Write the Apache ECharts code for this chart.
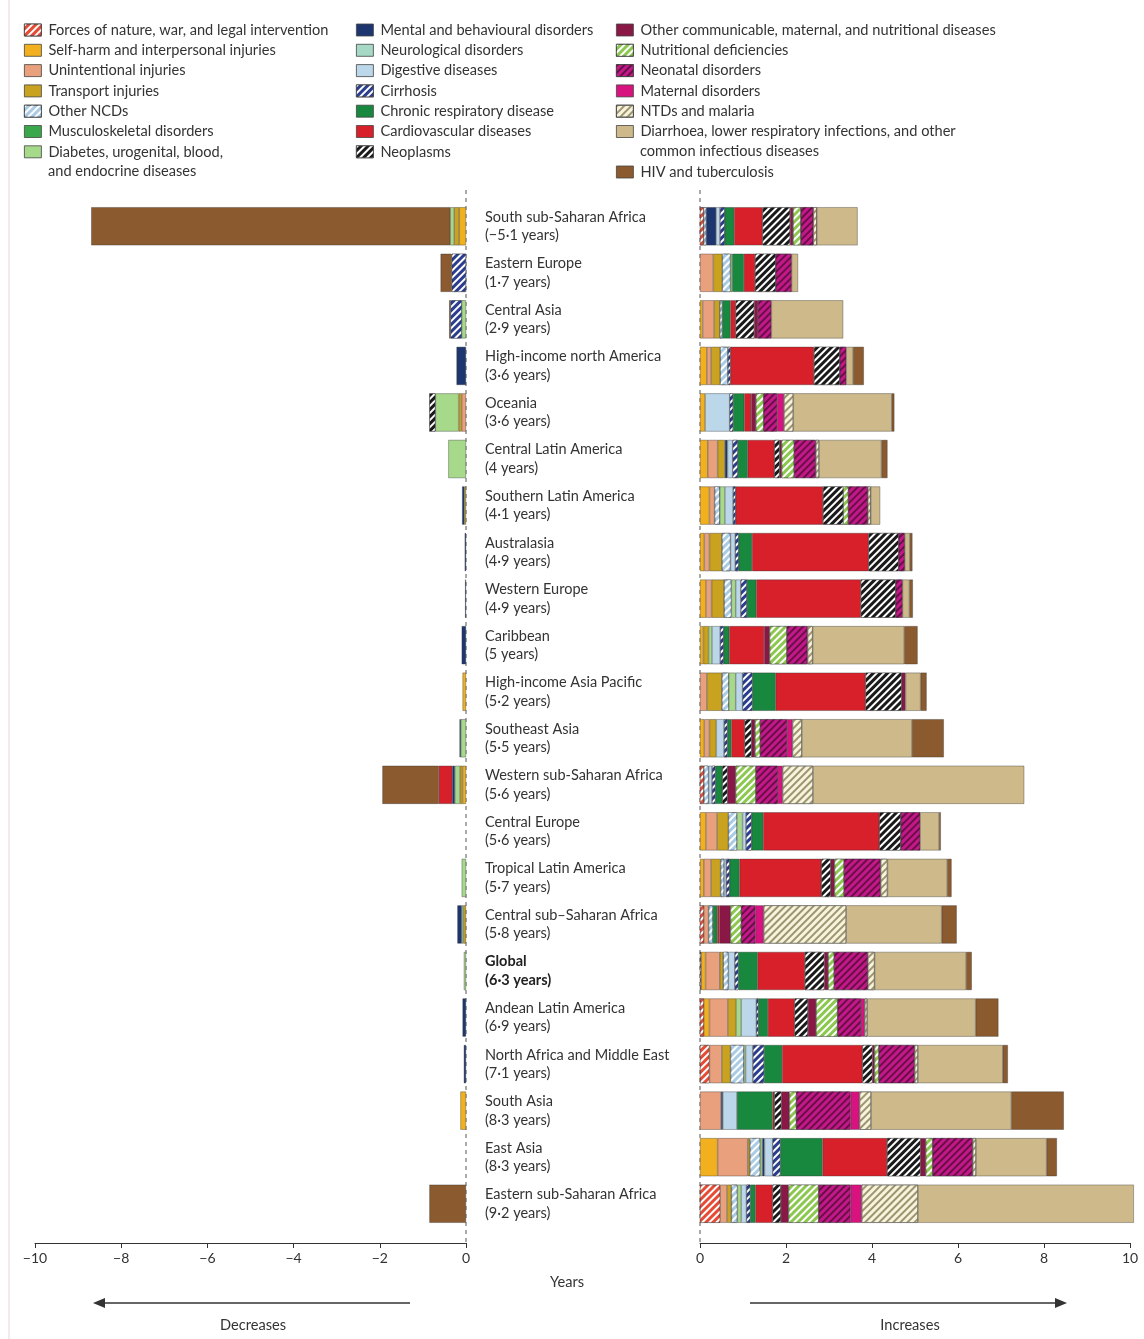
<!DOCTYPE html>
<html><head><meta charset="utf-8">
<script src="https://cdn.jsdelivr.net/npm/echarts@6/dist/echarts.min.js"></script>
<style>html,body{margin:0;padding:0;background:#fff}#c{width:1144px;height:1339px}</style>
</head><body><div id="c"></div>
<script>
// ---------------- DATA ----------------
const regions = ['South sub-Saharan Africa','Eastern Europe','Central Asia','High-income north America','Oceania','Central Latin America','Southern Latin America','Australasia','Western Europe','Caribbean','High-income Asia Pacific','Southeast Asia','Western sub-Saharan Africa','Central Europe','Tropical Latin America','Central sub–Saharan Africa','Global','Andean Latin America','North Africa and Middle East','South Asia','East Asia','Eastern sub-Saharan Africa'];
const changes = ['−5·1','1·7','2·9','3·6','3·6','4','4·1','4·9','4·9','5','5·2','5·5','5·6','5·6','5·7','5·8','6·3','6·9','7·1','8·3','8·3','9·2'];
const causes = ['Forces of nature, war, and legal intervention','Self-harm and interpersonal injuries','Unintentional injuries','Transport injuries','Other NCDs','Musculoskeletal disorders','Diabetes, urogenital, blood, and endocrine diseases','Mental and behavioural disorders','Neurological disorders','Digestive diseases','Cirrhosis','Chronic respiratory disease','Cardiovascular diseases','Neoplasms','Other communicable, maternal, and nutritional diseases','Nutritional deficiencies','Neonatal disorders','Maternal disorders','NTDs and malaria','Diarrhoea, lower respiratory infections, and other common infectious diseases','HIV and tuberculosis'];
const xTicksLeft = [-10,-8,-6,-4,-2,0];
const xTicksRight = [0,2,4,6,8,10];

// increases (years), one value per region
const incForces       = [.085,0,0,0,0,0,0,0,0,0,0,0,.09,0,0,.09,.03,.09,.22,0,0,.47];
const incSelfHarm     = [0,0,.06,.16,.12,.18,.22,.1,.14,.08,0,.1,0,.14,.09,0,.1,.13,0,0,.41,0];
const incUnintent     = [0,.31,.27,.1,0,.23,.12,.12,.13,0,.16,.12,0,.26,.17,.11,.33,.43,.29,.49,.7,.16];
const incTransport    = [0,.21,.13,.21,0,.17,0,.29,.29,.12,.35,.16,0,.26,.22,0,.08,.19,.2,0,.05,.1];
const incOtherNCD     = [.06,.19,.06,.18,0,0,.12,.2,.17,0,.16,0,.11,.2,.08,.1,.12,0,.31,0,.24,.14];
const incMusculo      = [0,0,0,0,0,0,0,0,0,0,0,0,0,0,0,0,0,0,0,0,0,0];
const incDiabetes     = [0,.04,0,0,0,0,.12,0,.1,.08,.16,0,0,.13,0,0,0,.12,.04,0,.05,.09];
const incMental       = [.23,0,0,0,0,.06,0,0,0,0,0,0,0,0,0,0,0,0,0,.04,.05,0];
const incNeuro        = [0,0,0,0,0,0,0,0,0,0,0,0,0,0,0,0,0,0,0,0,0,0];
const incDigestive    = [.09,0,0,0,.57,.12,.19,.11,.12,.19,.16,.18,.08,.08,.05,0,.15,.35,.17,.33,.19,.12];
const incCirrhosis    = [.11,0,0,.06,.08,.12,.06,.08,.14,.08,.23,.08,.08,.13,.08,0,.08,.05,.26,0,.18,.09];
const incChronicResp  = [.22,.27,.19,0,.26,.23,0,.31,.22,.13,.54,.09,.16,.27,.23,.1,.45,.22,.42,.83,.98,.12];
const incCardio       = [.66,.26,.12,1.94,.16,.62,2.03,2.71,2.43,.81,2.09,.31,0,2.7,1.9,.05,1.1,.62,1.87,.04,1.5,.4];
const incNeoplasms    = [.64,.48,.43,.6,0,.12,.47,.7,.81,0,.84,.16,.12,.5,.22,0,.45,.31,.23,.16,.78,.19];
const incOtherComm    = [.07,0,.09,0,.11,.05,0,0,0,.13,.09,.08,.19,0,.09,.26,.09,.19,.05,.19,.12,.18];
const incNutritional  = [.18,0,0,0,.18,.29,.12,0,0,.4,0,.12,.47,0,.22,.25,.14,.5,.1,.16,.16,.7];
const incNeonatal     = [.29,.37,.31,.15,.31,.5,.45,.14,.16,.48,0,.62,.51,.45,.85,.33,.78,.54,.83,1.26,.93,.74];
const incMaternal     = [0,0,0,0,.16,0,0,0,0,0,0,.13,.11,0,0,.19,0,.09,0,.21,0,.26];
const incNTDs         = [.08,0,0,0,.22,.08,.07,0,0,.12,0,.22,.71,0,.16,1.92,.16,.06,.08,.27,.08,1.31];
const incDiarrhoea    = [.95,.15,1.67,.16,2.29,1.45,.22,.12,.16,2.13,.35,2.56,4.91,.44,1.39,2.22,2.13,2.52,1.97,3.26,1.64,5.02];
const incHIV          = [0,0,0,.25,.06,.14,0,.06,.08,.31,.14,.74,0,.04,.1,.35,.13,.53,.12,1.22,.24,0];

// decreases (years, as positive magnitudes), one value per region
const decSelfHarm  = [.155,0,0,0,0,0,0,0,0,0,.08,0,.08,0,0,0,0,0,0,.13,0,0];
const decUnintent  = [0,0,0,0,.1,0,0,0,0,0,0,0,0,0,0,0,0,0,0,0,0,0];
const decTransport = [.12,0,0,0,.07,0,.04,0,0,0,0,0,.06,0,0,.06,0,0,0,0,0,0];
const decDiabetes  = [.09,0,.1,0,.54,.41,0,0,0,0,0,.12,.12,0,.1,.04,.05,0,0,0,0,0];
const decMental    = [0,0,0,.22,0,0,.05,.03,.02,.1,0,.03,.06,0,0,.1,0,.08,.05,0,0,0];
const decCirrhosis = [0,.33,.26,0,0,0,0,0,0,0,0,0,0,0,0,0,0,0,0,0,0,0];
const decCardio    = [0,0,0,0,0,0,0,0,0,0,0,0,.31,0,0,0,0,0,0,0,0,0];
const decNeoplasms = [0,0,0,0,.14,0,0,0,0,0,0,0,0,0,0,0,0,0,0,0,0,0];
const decHIV       = [8.33,.26,.03,0,0,0,0,0,0,0,0,0,1.31,0,0,0,0,0,0,0,0,.85];

const incByCause = [incForces,incSelfHarm,incUnintent,incTransport,incOtherNCD,incMusculo,incDiabetes,incMental,incNeuro,incDigestive,incCirrhosis,incChronicResp,incCardio,incNeoplasms,incOtherComm,incNutritional,incNeonatal,incMaternal,incNTDs,incDiarrhoea,incHIV];
const zeros = regions.map(() => 0);
const decByCause = [zeros,decSelfHarm,decUnintent,decTransport,zeros,zeros,decDiabetes,decMental,zeros,zeros,decCirrhosis,zeros,decCardio,decNeoplasms,zeros,zeros,zeros,zeros,zeros,zeros,decHIV];

// ---------------- STYLE ----------------
const hatch = (c) => ({symbol:'rect', symbolSize:1, color:c, dashArrayX:[1,0], dashArrayY:[2,2.4], rotation:-Math.PI/4});
const causeStyle = [
  {color:'#e64b35', decal:hatch('#ffffff')},
  {color:'#f2b01e'},
  {color:'#e9a07c'},
  {color:'#c9a21f'},
  {color:'#a9cbe6', decal:hatch('#ffffff')},
  {color:'#3aa84a'},
  {color:'#a7d98b'},
  {color:'#1d3670'},
  {color:'#a5d9c6'},
  {color:'#bcd7ea'},
  {color:'#2a3d8f', decal:hatch('#ffffff')},
  {color:'#18883f'},
  {color:'#d8202b'},
  {color:'#1a1a1a', decal:hatch('#ffffff')},
  {color:'#8a1846'},
  {color:'#8cc850', decal:hatch('#ffffff')},
  {color:'#c2188a', decal:hatch('#6a0f45')},
  {color:'#d8137f'},
  {color:'#f7f3dc', decal:hatch('#9d9570')},
  {color:'#cdb98a'},
  {color:'#8b5a2e'}
];
const FONT = 'Lato';
const TXT = '#333';

const series = [];
causes.forEach((name, i) => {
  const st = Object.assign({borderColor:'rgba(50,50,50,0.75)', borderWidth:0.5}, causeStyle[i]);
  series.push({type:'bar', name, xAxisIndex:1, yAxisIndex:1, stack:'inc', barCategoryGap:'18%', clip:false,
    itemStyle:st, emphasis:{disabled:true},
    data: incByCause[i].map(v => v > 0 ? v : '-')});
  series.push({type:'bar', name, xAxisIndex:0, yAxisIndex:0, stack:'dec', barCategoryGap:'18%', clip:false,
    itemStyle:st, emphasis:{disabled:true},
    data: decByCause[i].map(v => v > 0 ? -v : '-')});
});

const legendBase = {orient:'vertical', padding:0, itemWidth:17, itemHeight:12, itemGap:4.3,
  icon:'rect', selectedMode:false,
  itemStyle:{borderColor:'#444', borderWidth:0.8},
  textStyle:{fontFamily:FONT, fontSize:14.6, color:TXT, lineHeight:16, padding:[0,0,0,2]},
  formatter: (n) => n.startsWith('Diabetes') ? 'Diabetes, urogenital, blood,' :
                    n.startsWith('Diarrhoea') ? 'Diarrhoea, lower respiratory infections, and other' : n};

const chart = echarts.init(document.getElementById('c'), null, {renderer:'canvas'});
const labelFmt = (v) => {
  const i = regions.indexOf(v);
  const l2 = '(' + changes[i] + ' years)';
  return v === 'Global' ? '{g|' + v + '}\n{g|' + l2 + '}' : '{n|' + v + '}\n{n|' + l2 + '}';
};
chart.setOption({
  animation:false,
  backgroundColor:'#fff',
  textStyle:{fontFamily:FONT},
  legend:[
    Object.assign({}, legendBase, {left:24, top:22, data:causes.slice(0,7)}),
    Object.assign({}, legendBase, {left:356, top:22, data:causes.slice(7,14)}),
    Object.assign({}, legendBase, {left:616, top:22, data:causes.slice(14,20)}),
    Object.assign({}, legendBase, {left:616, top:164, data:causes.slice(20)})
  ],
  grid:[
    {left:35, right:1144-466, top:203, bottom:1339-1227},
    {left:700, right:1144-1130, top:203, bottom:1339-1227}
  ],
  xAxis:[
    {type:'value', gridIndex:0, min:-10, max:0, interval:2, offset:16,
     axisLine:{show:true, lineStyle:{color:'#333', width:1}}, axisTick:{show:true, length:5, lineStyle:{color:'#333'}},
     splitLine:{show:false},
     axisLabel:{fontFamily:FONT, fontSize:14, color:TXT, margin:8, formatter:(v)=> v<0 ? '−'+Math.abs(v) : String(v)}},
    {type:'value', gridIndex:1, min:0, max:10, interval:2, offset:16,
     axisLine:{show:true, lineStyle:{color:'#333', width:1}}, axisTick:{show:true, length:5, lineStyle:{color:'#333'}},
     splitLine:{show:false},
     axisLabel:{fontFamily:FONT, fontSize:14, color:TXT, margin:8}}
  ],
  yAxis:[
    {type:'category', gridIndex:0, data:regions, inverse:true, position:'right',
     axisLine:{show:false}, axisTick:{show:false},
     axisLabel:{margin:19, align:'left', formatter:labelFmt,
       rich:{n:{fontFamily:FONT, fontSize:14.5, color:TXT, lineHeight:18.5},
             g:{fontFamily:FONT, fontSize:14.5, color:'#222', fontWeight:'bold', lineHeight:18.5}}}},
    {type:'category', gridIndex:1, data:regions, inverse:true,
     axisLine:{show:false}, axisTick:{show:false}, axisLabel:{show:false}}
  ],
  series
});

const xL = chart.convertToPixel({xAxisIndex:0}, 0);
const xR = chart.convertToPixel({xAxisIndex:1}, 0);
const dash = {stroke:'#555', lineWidth:1, lineDash:[4,4]};
const txt = (x, y, s, align) => ({type:'text', x, y, style:{text:s, fontFamily:FONT, fontSize:14.6, fill:TXT, align:align||'left', verticalAlign:'middle'}});
chart.setOption({graphic:[
  {type:'line', shape:{x1:xL, y1:190, x2:xL, y2:1243}, style:dash, z:-1},
  {type:'line', shape:{x1:xR, y1:190, x2:xR, y2:1243}, style:dash, z:-1},
  txt(48, 171, 'and endocrine diseases'),
  txt(640, 151, 'common infectious diseases'),
  txt(567, 1282, 'Years', 'center'),
  txt(253, 1325, 'Decreases', 'center'),
  txt(910, 1325, 'Increases', 'center'),
  {type:'line', shape:{x1:410, y1:1303, x2:100, y2:1303}, style:{stroke:'#333', lineWidth:1.5}},
  {type:'polygon', shape:{points:[[93,1303],[105,1298],[105,1308]]}, style:{fill:'#333'}},
  {type:'line', shape:{x1:750, y1:1303, x2:1060, y2:1303}, style:{stroke:'#333', lineWidth:1.5}},
  {type:'polygon', shape:{points:[[1067,1303],[1055,1298],[1055,1308]]}, style:{fill:'#333'}},
  {type:'line', shape:{x1:9, y1:0, x2:9, y2:1339}, style:{stroke:'#e8d4d8', lineWidth:1}}
]});
</script></body></html>
